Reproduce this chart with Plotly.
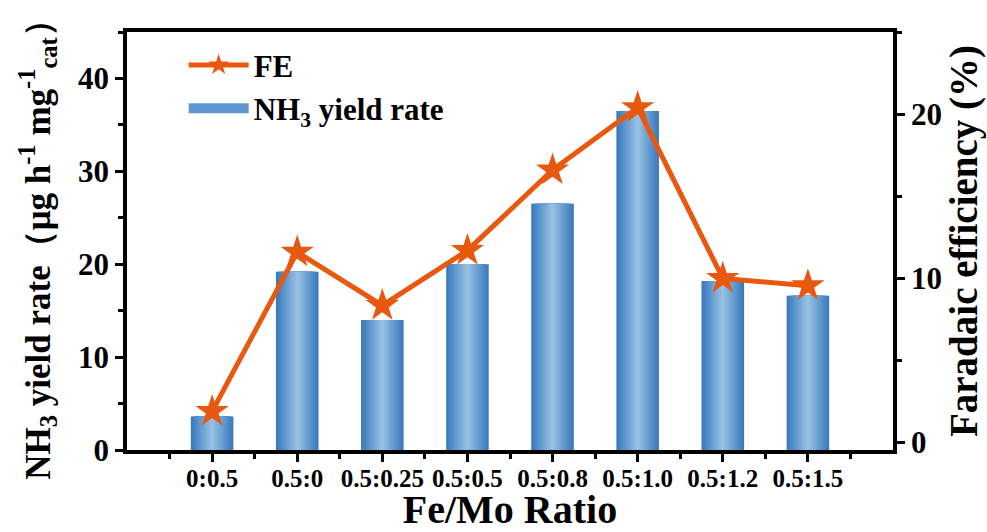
import plotly.graph_objects as go
import numpy as np

ratios = ["0:0.5", "0.5:0", "0.5:0.25", "0.5:0.5", "0.5:0.8", "0.5:1.0", "0.5:1.2", "0.5:1.5"]
nh3_yield = [3.6, 19.2, 14.0, 20.0, 26.5, 36.5, 18.2, 16.6]
fe_percent = [1.9, 11.6, 8.35, 11.7, 16.6, 20.4, 10.0, 9.55]

xpos = list(range(len(ratios)))
FONT = "Liberation Serif, Times New Roman, serif"
ORANGE = "#E8580F"

fig = go.Figure()

# gradient bars via overlaid layers
edge = np.array([58, 123, 191])
center = np.array([150, 192, 226])
N = 12
for i in range(N):
    t = i / (N - 1)
    c = edge + (center - edge) * t
    w = 0.5 * (1 - i / N)
    fig.add_trace(go.Bar(
        x=xpos, y=nh3_yield, width=w,
        marker=dict(color="rgb(%d,%d,%d)" % tuple(c), line=dict(width=0)),
        name="NH<sub>3</sub> yield rate", showlegend=False,
        yaxis="y",
    ))

fig.add_trace(go.Scatter(
    x=xpos, y=fe_percent, mode="lines+markers", name="FE",
    line=dict(color=ORANGE, width=5),
    marker=dict(symbol="star", size=25, color=ORANGE, line=dict(width=0)),
    yaxis="y2", legendrank=1,
))
# legend swatch for the bars
fig.add_trace(go.Scatter(
    x=[None], y=[None], mode="lines", name="NH<sub>3</sub> yield rate",
    line=dict(color="#5E97CF", width=20), yaxis="y", legendrank=2,
))

tickfont = dict(family=FONT, size=31, color="black")
LW = 3.5
fig.update_layout(
    width=987, height=532,
    margin=dict(l=127, r=94, t=32, b=82, autoexpand=False),
    plot_bgcolor="white", paper_bgcolor="white",
    barmode="overlay",
    font=dict(family=FONT, color="black"),
    xaxis=dict(
        range=[-1, 8], tickvals=xpos, ticktext=["<b>%s</b>" % r for r in ratios],
        tickfont=dict(family=FONT, size=25, color="black"),
        showline=True, linewidth=LW, linecolor="black", mirror=True,
        ticks="outside", ticklen=8, tickwidth=3, tickcolor="black",
        showgrid=False, zeroline=False, ticklabelstandoff=-5, automargin=False,
        minor=dict(tick0=0.5, dtick=1, ticks="outside", ticklen=5, tickwidth=2.5, tickcolor="black"),
        title=dict(text="<b>Fe/Mo Ratio</b>", font=dict(family=FONT, size=40), standoff=14),
    ),
    yaxis=dict(
        range=[0, 45], tickvals=[0, 10, 20, 30, 40],
        ticktext=["<b>%d</b>" % v for v in [0, 10, 20, 30, 40]],
        tickfont=tickfont, automargin=False,
        showline=True, linewidth=LW, linecolor="black",
        ticks="outside", ticklen=8, tickwidth=3, tickcolor="black",
        showgrid=False, zeroline=False,
        minor=dict(tick0=5, dtick=10, ticks="outside", ticklen=5, tickwidth=2.5, tickcolor="black"),
        title=dict(text="<b>NH<sub>3</sub> yield rate（μg h<sup>-1</sup> mg<sup>-1</sup><sub>cat</sub>）</b>",
                   font=dict(family=FONT, size=35), standoff=18),
    ),
    yaxis2=dict(
        range=[-0.45, 25], overlaying="y", side="right",
        tickvals=[0, 10, 20], ticktext=["<b>%d</b>" % v for v in [0, 10, 20]],
        tickfont=tickfont, automargin=False,
        showline=True, linewidth=LW, linecolor="black",
        ticks="outside", ticklen=8, tickwidth=3, tickcolor="black",
        showgrid=False, zeroline=False,
        minor=dict(tick0=5, dtick=10, ticks="outside", ticklen=5, tickwidth=2.5, tickcolor="black"),
        title=dict(text="<b>Faradaic efficiency (%)</b>", font=dict(family=FONT, size=39), standoff=8),
    ),
    legend=dict(x=0.074, y=0.985, xanchor="left", yanchor="top",
                font=dict(family=FONT, size=31, color="black", weight="bold"),
                bgcolor="rgba(0,0,0,0)", tracegroupgap=2, itemwidth=60),
)

fig.write_html("out.html", config={"displayModeBar": False},
               post_script="document.body.style.margin='0px';document.body.style.overflow='hidden';")
